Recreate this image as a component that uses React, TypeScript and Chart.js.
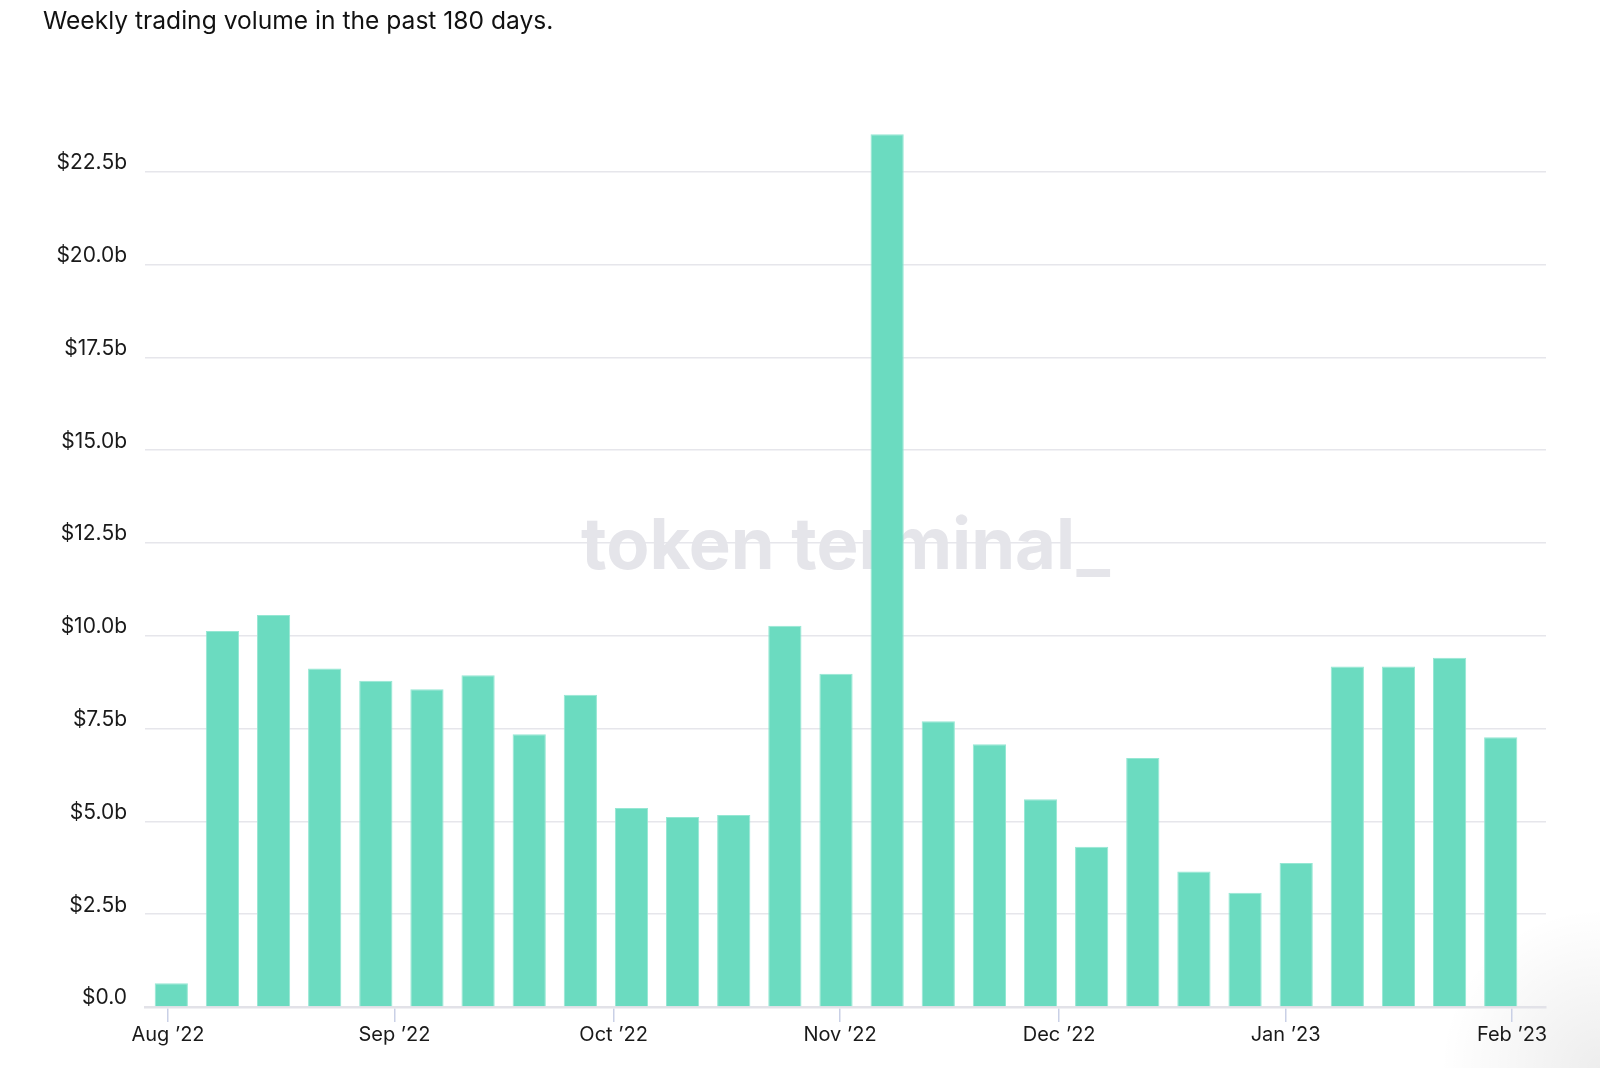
import React, { useEffect, useRef } from "react";
import { Chart, registerables } from "chart.js";

Chart.register(...registerables);

const TITLE = "Weekly trading volume in the past 180 days.";
const WATERMARK = "token terminal_";

const weekStarts = [
  "2022-08-01", "2022-08-08", "2022-08-15", "2022-08-22", "2022-08-29",
  "2022-09-05", "2022-09-12", "2022-09-19", "2022-09-26", "2022-10-03",
  "2022-10-10", "2022-10-17", "2022-10-24", "2022-10-31", "2022-11-07",
  "2022-11-14", "2022-11-21", "2022-11-28", "2022-12-05", "2022-12-12",
  "2022-12-19", "2022-12-26", "2023-01-02", "2023-01-09", "2023-01-16",
  "2023-01-23", "2023-01-30",
];

// weekly trading volume, billions USD
const volumeB = [
  0.64, 10.13, 10.56, 9.12, 8.79, 8.56, 8.94, 7.35, 8.41, 5.36,
  5.12, 5.17, 10.27, 8.98, 23.51, 7.7, 7.08, 5.6, 4.32, 6.71,
  3.65, 3.08, 3.88, 9.17, 9.17, 9.41, 7.27,
];

const monthTickDates = [
  "2022-08-01", "2022-09-01", "2022-10-01", "2022-11-01",
  "2022-12-01", "2023-01-01", "2023-02-01",
];
const monthTickLabels = [
  "Aug \u201922", "Sep \u201922", "Oct \u201922", "Nov \u201922",
  "Dec \u201922", "Jan \u201923", "Feb \u201923",
];

const Y_STEP = 2.5;
const Y_MAX = 23.6;

const ORIGIN = Date.parse(weekStarts[0]);
const DAY = 86400000;
const toDay = (s: string) => (Date.parse(s) - ORIGIN) / DAY;

const X_MIN = -3.15;
const X_MAX = toDay(monthTickDates[monthTickDates.length - 1]) + 4.65;

const FONT = "Inter, 'Liberation Sans', Arial, sans-serif";

export default function App() {
  const ref = useRef<HTMLCanvasElement | null>(null);

  useEffect(() => {
    const canvas = ref.current;
    if (!canvas) return;

    const points = weekStarts.map((d, i) => ({ x: toDay(d) + 0.45, y: volumeB[i] }));
    const tickDays = monthTickDates.map(toDay);
    const labelFor = new Map<number, string>();
    tickDays.forEach((d, i) => labelFor.set(d, monthTickLabels[i]));

    const decor = {
      id: "decor",
      beforeDatasetsDraw(chart: any) {
        const { ctx, chartArea } = chart;
        ctx.save();
        let size = 72;
        ctx.font = `700 ${size}px ${FONT}`;
        const w = ctx.measureText(WATERMARK).width;
        size = (size * 529) / w;
        ctx.font = `700 ${size}px ${FONT}`;
        ctx.fillStyle = "#e5e5ea";
        ctx.textAlign = "center";
        ctx.textBaseline = "alphabetic";
        ctx.fillText(WATERMARK, (chartArea.left + chartArea.right) / 2, 569);
        ctx.restore();
      },
      afterDraw(chart: any) {
        const { ctx } = chart;
        ctx.save();
        ctx.font = `400 24.6px ${FONT}`;
        ctx.fillStyle = "#111111";
        ctx.textAlign = "left";
        ctx.textBaseline = "alphabetic";
        ctx.fillText(TITLE, 43, 29);
        ctx.restore();
      },
    };

    const chart = new Chart(canvas, {
      type: "bar",
      data: {
        datasets: [
          {
            data: points as any,
            backgroundColor: "#6bdbc0",
            borderColor: "#95e7d3",
            borderWidth: 1,
            barPercentage: 0.65,
            categoryPercentage: 1,
          },
        ],
      },
      options: {
        responsive: false,
        animation: false,
        layout: { padding: { top: 131, left: 44, right: 54, bottom: 0 } },
        plugins: {
          legend: { display: false },
          tooltip: { enabled: false },
          title: { display: false },
        },
        scales: {
          x: {
            type: "linear",
            offset: false,
            min: X_MIN,
            max: X_MAX,
            afterBuildTicks: (scale: any) => {
              scale.ticks = tickDays.map((v) => ({ value: v }));
            },
            afterFit: (scale: any) => {
              scale.height = 61;
            },
            ticks: {
              autoSkip: false,
              maxRotation: 0,
              padding: 1,
              color: "#1a1a1a",
              font: { family: FONT, size: 20 },
              callback: (v: any) => labelFor.get(Number(v)) ?? "",
            },
            grid: {
              offset: false,
              drawOnChartArea: false,
              drawTicks: true,
              tickLength: 15,
              color: "#c9d0e6",
              lineWidth: 1.5,
            },
            border: { display: true, color: "#e2e2e8", width: 2.5 },
          },
          y: {
            min: 0,
            max: Y_MAX,
            afterBuildTicks: (scale: any) => {
              scale.ticks = scale.ticks.filter(
                (t: any) => Math.abs(t.value / Y_STEP - Math.round(t.value / Y_STEP)) < 1e-6
              );
            },
            afterFit: (scale: any) => {
              scale.width = 101;
            },
            ticks: {
              stepSize: Y_STEP,
              padding: 18,
              labelOffset: -9,
              color: "#1a1a1a",
              font: { family: FONT, size: 21 },
              callback: (v: any) => (Number(v) === 0 ? "$0.0" : `$${Number(v).toFixed(1)}b`),
            },
            grid: {
              drawTicks: false,
              color: "#e6e6eb",
              lineWidth: 1.6,
            },
            border: { display: false },
          },
        },
      },
      plugins: [decor],
    });

    return () => chart.destroy();
  }, []);

  return (
    <div
      style={{
        position: "fixed",
        left: 0,
        top: 0,
        width: 1600,
        height: 1068,
        background:
          "radial-gradient(circle at 1600px 1068px, rgba(0,0,0,0.07), rgba(0,0,0,0) 160px), #ffffff",
      }}
    >
      <canvas ref={ref} width={1600} height={1068} style={{ display: "block" }} />
    </div>
  );
}
